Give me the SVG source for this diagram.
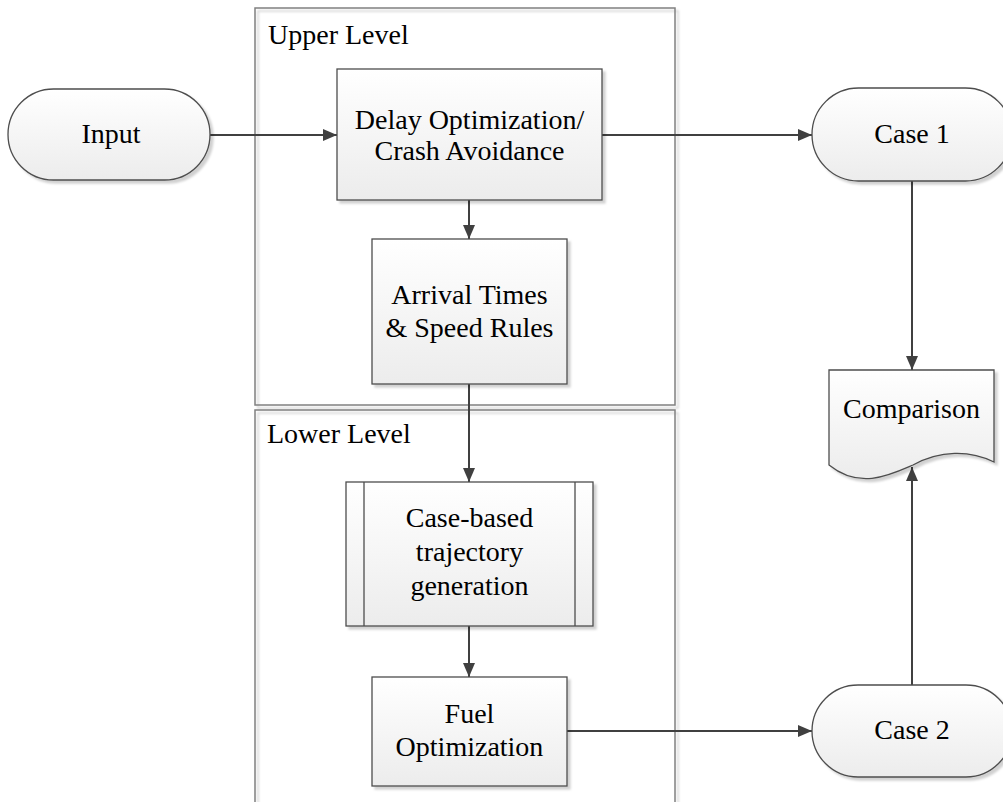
<svg xmlns="http://www.w3.org/2000/svg" width="1003" height="802" viewBox="0 0 1003 802">
  <defs>
    <linearGradient id="boxFill" x1="0" y1="0" x2="0" y2="1">
      <stop offset="0" stop-color="#ffffff"/>
      <stop offset="1" stop-color="#ececec"/>
    </linearGradient>
    <filter id="shadow" x="-10%" y="-10%" width="130%" height="130%">
      <feOffset in="SourceAlpha" dx="3" dy="3" result="off"/>
      <feGaussianBlur in="off" stdDeviation="1" result="blur"/>
      <feFlood flood-color="#000000" flood-opacity="0.18"/>
      <feComposite in2="blur" operator="in" result="sh"/>
      <feMerge>
        <feMergeNode in="sh"/>
        <feMergeNode in="SourceGraphic"/>
      </feMerge>
    </filter>
    <marker id="arrow" viewBox="0 0 14 12" refX="14" refY="6" markerWidth="14" markerHeight="12" markerUnits="userSpaceOnUse" orient="auto">
      <path d="M0,0 L14,6 L0,12 Z" fill="#404040"/>
    </marker>
  </defs>
  <style>
    .container { fill: none; stroke: #808080; stroke-width: 1.5; }
    .shape { fill: url(#boxFill); stroke: #4d4d4d; stroke-width: 1.3; filter: url(#shadow); }
    .bar { fill: none; stroke: #4d4d4d; stroke-width: 1.3; }
    .label { font-family: "Liberation Serif", "Times New Roman", serif; font-size: 28px; fill: #000000; text-anchor: middle; }
    .title { font-family: "Liberation Serif", "Times New Roman", serif; font-size: 28px; fill: #000000; }
    .conn { fill: none; stroke: #404040; stroke-width: 2; }
  </style>

  <rect width="1003" height="802" fill="#ffffff"/>

  <!-- Swimlane containers -->
  <g id="upper-level">
    <rect class="container" x="255" y="8" width="420" height="397" filter="url(#shadow)"/>
    <text class="title" x="268" y="44">Upper Level</text>
  </g>
  <g id="lower-level">
    <rect class="container" x="255" y="410" width="420" height="400" filter="url(#shadow)"/>
    <text class="title" x="267" y="443">Lower Level</text>
  </g>

  <!-- Connectors -->
  <g id="connectors">
    <line class="conn" x1="210" y1="135" x2="337" y2="135" marker-end="url(#arrow)"/>
    <line class="conn" x1="602" y1="135" x2="812" y2="135" marker-end="url(#arrow)"/>
    <line class="conn" x1="469" y1="200" x2="469" y2="239" marker-end="url(#arrow)"/>
    <line class="conn" x1="469" y1="384" x2="469" y2="482" marker-end="url(#arrow)"/>
    <line class="conn" x1="469" y1="626" x2="469" y2="677" marker-end="url(#arrow)"/>
    <line class="conn" x1="567" y1="731" x2="812" y2="731" marker-end="url(#arrow)"/>
    <line class="conn" x1="912" y1="181" x2="912" y2="370" marker-end="url(#arrow)"/>
    <line class="conn" x1="912" y1="685" x2="912" y2="467" marker-end="url(#arrow)"/>
  </g>

  <!-- Nodes -->
  <g id="input">
    <rect class="shape" x="8" y="89" width="202" height="91" rx="45.5" ry="45.5"/>
    <text class="label" x="111" y="143">Input</text>
  </g>

  <g id="delay-optimization">
    <rect class="shape" x="337" y="69" width="265" height="131"/>
    <text class="label" x="469.5" y="129">Delay Optimization/</text>
    <text class="label" x="469.5" y="160">Crash Avoidance</text>
  </g>

  <g id="arrival-times">
    <rect class="shape" x="372" y="239" width="195" height="145"/>
    <text class="label" x="469.5" y="304">Arrival Times</text>
    <text class="label" x="469.5" y="337">&amp; Speed Rules</text>
  </g>

  <g id="trajectory-generation">
    <rect class="shape" x="346" y="482" width="247" height="144"/>
    <line class="bar" x1="364" y1="482" x2="364" y2="626"/>
    <line class="bar" x1="575" y1="482" x2="575" y2="626"/>
    <text class="label" x="469.5" y="527">Case-based</text>
    <text class="label" x="469.5" y="561">trajectory</text>
    <text class="label" x="469.5" y="595">generation</text>
  </g>

  <g id="fuel-optimization">
    <rect class="shape" x="372" y="677" width="195" height="109"/>
    <text class="label" x="469.5" y="723">Fuel</text>
    <text class="label" x="469.5" y="756">Optimization</text>
  </g>

  <g id="case-1">
    <rect class="shape" x="812" y="88" width="200" height="93" rx="46.5" ry="46.5"/>
    <text class="label" x="912" y="143">Case 1</text>
  </g>

  <g id="case-2">
    <rect class="shape" x="812" y="685" width="200" height="92" rx="46" ry="46"/>
    <text class="label" x="912" y="739">Case 2</text>
  </g>

  <g id="comparison">
    <path class="shape" d="M829,370 L994,370 L994,462 C970,450 940,450 913,465 C890,475 860,490 829,465 Z"/>
    <text class="label" x="911.5" y="418">Comparison</text>
  </g>
</svg>
